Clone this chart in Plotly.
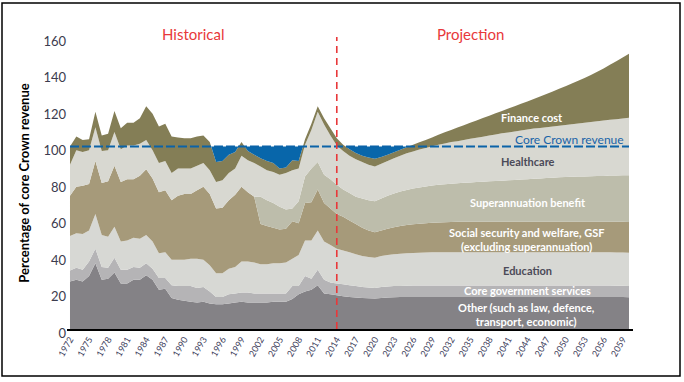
import plotly.graph_objects as go

# ---------------- data (percent of core Crown revenue) ----------------
years = list(range(1972, 2061))

other = [26, 27, 26, 29, 36, 27, 27.5, 31, 25, 25,
         27, 27, 29.5, 27, 21.5, 22, 17, 16, 15.5, 15,
         14.5, 15, 14, 13.5, 13.5, 14, 14.5, 15, 14.5, 14.5,
         14.5, 14.5, 15, 15, 15, 16.5, 19, 20.5, 21.5, 24,
         19.5, 19, 18.5,
         18, 17.5, 17.3, 17, 16.8, 16.7, 17, 17.2, 17.4, 17.5, 17.6,
         17.6, 17.6, 17.6, 17.6, 17.6, 17.6, 17.6, 17.6, 17.6, 17.6,
         17.6, 17.6, 17.6, 17.6, 17.6, 17.6, 17.6, 17.6, 17.6, 17.6,
         17.6, 17.6, 17.6, 17.6, 17.6, 17.6, 17.6, 17.6, 17.6, 17.6,
         17.6, 17.6, 17.5, 17.5, 17.4]

core_gov = [6, 6.5, 6.5, 8, 8, 7, 6, 8, 7.5, 7.5,
            7, 6.5, 6.5, 6, 6.5, 6, 7, 7.5, 8, 8.5,
            8, 8, 6.5, 4, 4, 5, 5, 5, 5.5, 5,
            5, 5, 4.5, 4.5, 4.5, 7, 4.5, 8.5, 6, 8.5,
            7.5, 6.5, 6.5,
            6.5, 6.5, 6.2, 6, 6, 5.8, 6, 6.1, 6.1, 6.1, 6.1,
            6.2, 6.2, 6.2, 6.2, 6.2, 6.2, 6.2, 6.2, 6.2, 6.2,
            6.2, 6.2, 6.2, 6.2, 6.2, 6.2, 6.2, 6.2, 6.2, 6.2,
            6.2, 6.2, 6.2, 6.2, 6.2, 6.2, 6.2, 6.2, 6.2, 6.2,
            6.2, 6.2, 6.2, 6.2, 6.2]

education = [19, 19, 19.5, 17, 19, 17.5, 17, 17, 15.5, 16,
             16, 16, 15.5, 15, 13.5, 14, 14, 14.5, 14.5, 15,
             16, 15, 14.5, 13, 13, 14, 14.5, 17, 17, 17,
             16, 16, 16.5, 16.5, 17, 15, 17, 19.5, 21, 21.5,
             21, 20.5, 19,
             18.5, 18, 17.5, 17, 16.7, 16.5, 17, 17.2, 17.5, 17.7, 17.8,
             17.9, 18, 18.1, 18.2, 18.2, 18.2, 18.2, 18.2, 18.2, 18.2,
             18.2, 18.2, 18.2, 18.2, 18.2, 18.2, 18.2, 18.2, 18.2, 18.2,
             18.2, 18.2, 18.2, 18.2, 18.2, 18.2, 18.2, 18.2, 18.2, 18.2,
             18.2, 18.2, 18.2, 18.2, 18.2]

social_welfare = [22, 25.5, 26.5, 25.5, 29, 28.5, 30.5, 33.5, 32.5, 33.5,
                  32, 34.5, 36, 34.5, 33.5, 34, 32.5, 35, 36, 35.5,
                  37.5, 40, 39, 35.5, 36, 37.5, 39.5, 41, 38, 36,
                  22, 21, 19.5, 18.5, 18.5, 20.5, 17.5, 20.5, 21, 22.5,
                  21, 20, 19,
                  18.5, 17.5, 16.5, 15.5, 14.5, 14, 14, 14.5, 14.8, 15.2, 15.5,
                  15.7, 15.9, 16.1, 16.2, 16.4, 16.5, 16.6, 16.7, 16.8, 16.8,
                  16.8, 16.8, 16.8, 16.8, 16.8, 16.8, 16.8, 16.8, 16.8, 16.8,
                  16.8, 16.8, 16.8, 16.8, 16.8, 16.8, 16.8, 16.8, 16.8, 16.8,
                  16.8, 16.8, 16.8, 16.8, 16.8]

superannuation = [0, 0, 0, 0, 0, 0, 0, 0, 0, 0,
                  0, 0, 0, 0, 0, 0, 0, 0, 0, 0,
                  0, 0, 0, 0, 0, 0, 0, 0, 0, 0,
                  15, 14, 13.5, 12.5, 10.5, 7, 12, 14.5, 18.5, 15,
                  15.5, 16, 16,
                  15, 15, 15, 16, 16.5, 17, 17.5, 18, 18.5, 18.8, 19.2,
                  19.6, 19.9, 20.1, 20.4, 20.6, 20.8, 21.0, 21.1, 21.3, 21.5,
                  21.7, 21.9, 22.1, 22.3, 22.5, 22.7, 22.9, 23.1, 23.3, 23.5,
                  23.7, 23.9, 24.1, 24.3, 24.5, 24.6, 24.7, 24.8, 24.9, 25.0,
                  25.1, 25.3, 25.4, 25.6, 25.7]

healthcare = [17, 20, 18.5, 18.5, 18.5, 17.5, 17, 18.5, 18, 18.5,
              18.5, 17.5, 16, 15.5, 16, 16, 15, 15, 14, 14,
              13.5, 13, 13, 14.5, 15, 15, 14.5, 17, 17.5, 18.5,
              16.5, 16.5, 17, 17.5, 20, 21, 18, 17.5, 21, 27.5,
              27.5, 24, 21.5,
              21, 20.5, 20.5, 20, 19.5, 19, 19, 19, 19.2, 19.7, 20.1,
              20.3, 20.7, 21.1, 21.5, 22.0, 22.4, 22.8, 23.1, 23.5, 23.9,
              24.3, 24.7, 25.1, 25.5, 25.9, 26.2, 26.5, 26.8, 27.2, 27.5,
              27.7, 27.9, 28.1, 28.3, 28.5, 28.8, 29.1, 29.4, 29.7, 30.0,
              30.3, 30.6, 30.8, 31.1, 31.4]

finance_cost = [10, 7.5, 6.5, 6, 8.5, 8.5, 9, 11.5, 11.5, 12.5,
                12.5, 14, 18.5, 20, 20, 20.5, 20, 17, 16.5, 16.5,
                16, 15, 15.5, 11, 10.5, 10, 9, 7.5, 5, 4.5,
                4.5, 5, 5, 3.5, 3, 5.5, 4, 3, 3.5, 3,
                3.5, 4, 4,
                3.5, 3.5, 3.5, 3.5, 4, 4.3, 3.8, 3.5, 3.3, 3.2, 3.3,
                3.7, 4, 4.4, 4.8, 5.5, 6.1, 6.7, 7.5, 8.1, 8.8,
                9.5, 10.2, 10.9, 11.6, 12.3, 13.1, 13.9, 14.7, 15.4, 16.2,
                17.2, 18.2, 19.2, 20.2, 21.2, 22.3, 23.4, 24.5, 25.8, 27.2,
                28.6, 30.1, 31.8, 33.4, 35.1]

core_crown_revenue = 100
projection_start = 2014
tick_years = [1972, 1975, 1978, 1981, 1984, 1987, 1990, 1993, 1996, 1999,
              2002, 2005, 2008, 2011, 2014, 2017, 2020, 2023, 2026, 2029,
              2032, 2035, 2038, 2041, 2044, 2047, 2050, 2053, 2056, 2059]
y_ticks = [0, 20, 40, 60, 80, 100, 120, 140, 160]

# ---------------- figure ----------------
FONT = "Lato"
layers = [
    ("Other", other, "#848286"),
    ("Core government services", core_gov, "#b5b4b6"),
    ("Education", education, "#d7d8d4"),
    ("Social security and welfare", social_welfare, "#a69a7a"),
    ("Superannuation benefit", superannuation, "#bdbdab"),
    ("Healthcare", healthcare, "#d8d8d1"),
    ("Finance cost", finance_cost, "#847e56"),
]

fig = go.Figure()
for name, vals, color in layers:
    fig.add_trace(go.Scatter(x=years, y=vals, name=name, stackgroup="spend",
                             mode="none", fillcolor=color, hoverinfo="skip"))

# blue region: spending below core Crown revenue
total = [sum(v) for v in zip(*[l[1] for l in layers])]
bx, by = [], []
for i in range(len(years)):
    bx.append(years[i])
    by.append(min(total[i], core_crown_revenue))
    if i + 1 < len(years):
        a = total[i] - core_crown_revenue
        b = total[i + 1] - core_crown_revenue
        if a * b < 0:
            t = a / (a - b)
            bx.append(years[i] + t * (years[i + 1] - years[i]))
            by.append(core_crown_revenue)
fig.add_trace(go.Scatter(x=bx + bx[::-1], y=by + [core_crown_revenue] * len(bx),
                         fill="toself", fillcolor="#0866aa", mode="none",
                         hoverinfo="skip"))

# revenue dashed line
fig.add_trace(go.Scatter(x=[years[0], years[-1]],
                         y=[core_crown_revenue, core_crown_revenue],
                         mode="lines", line=dict(color="#0b63a8", width=2.2, dash="9px,3px"),
                         hoverinfo="skip"))

# projection divider
fig.add_shape(type="line", xref="x", yref="y", x0=projection_start, x1=projection_start,
              y0=0, y1=160, line=dict(color="#e8383a", width=1.6, dash="7px,5px"))

# outer frame
fig.add_shape(type="rect", xref="paper", yref="paper",
              x0=(2 - 67) / 566, x1=(680 - 67) / 566,
              y0=(329 - 376) / 292, y1=(329 - 3) / 292,
              line=dict(color="black", width=1.5))


def ann(text, x, y, color, size=11, bold=True, xanchor="center", yref="y"):
    fig.add_annotation(x=x, y=y, xref="x", yref=yref, text=text, showarrow=False,
                       xanchor=xanchor, yanchor="middle",
                       font=dict(family=FONT, size=size, color=color,
                                 weight="bold" if bold else "normal"))


ann("Historical", 1991.4, (329 - 34.3) / 292, "#e8383a", size=15, bold=False, yref="paper")
ann("Projection", 2035.1, (329 - 34.3) / 292, "#e8383a", size=15, bold=False, yref="paper")
ann("Finance cost", 2044.7, 115.8, "white")
ann("Core Crown revenue", 2059.6, 103.9, "#1a64a8", size=12, bold=False, xanchor="right")
ann("Healthcare", 2044.1, 92, "#4b4a58")
ann("Superannuation benefit", 2044.1, 69.4, "white")
ann("Social security and welfare, GSF<br>(excluding superannuation)", 2043.9, 48.9, "white")
ann("Education", 2044.0, 32.3, "#4b4a58")
ann("Core government services", 2044.1, 21, "white")
ann("Other (such as law, defence,<br>transport, economic)", 2043.9, 7.7, "white")

fig.update_layout(
    width=684, height=382,
    margin=dict(l=67, r=51, t=37, b=53),
    paper_bgcolor="white", plot_bgcolor="white",
    showlegend=False,
    font=dict(family=FONT),
    xaxis=dict(range=[1971.53, 2060.63], tickmode="array", tickvals=tick_years,
               ticktext=[str(y) for y in tick_years], tickangle=-60,
               tickfont=dict(family=FONT, size=9, color="#3c3c5a"),
               showgrid=False, zeroline=False, showline=True,
               linecolor="black", linewidth=1.5, ticks=""),
    yaxis=dict(range=[0, 160], tickmode="array", tickvals=y_ticks,
               tickfont=dict(family=FONT, size=13, color="#3c3c4e"),
               showgrid=False, zeroline=False, showline=False, ticks="",
               ticklabelshift=4,
               title=dict(text="<b>Percentage of core Crown revenue</b>",
                          font=dict(family=FONT, size=13, color="black"),
                          standoff=10)),
)

fig.write_html("out.html",
               config={"displayModeBar": False},
               post_script="document.body.style.margin='0';document.body.style.overflow='hidden';")
